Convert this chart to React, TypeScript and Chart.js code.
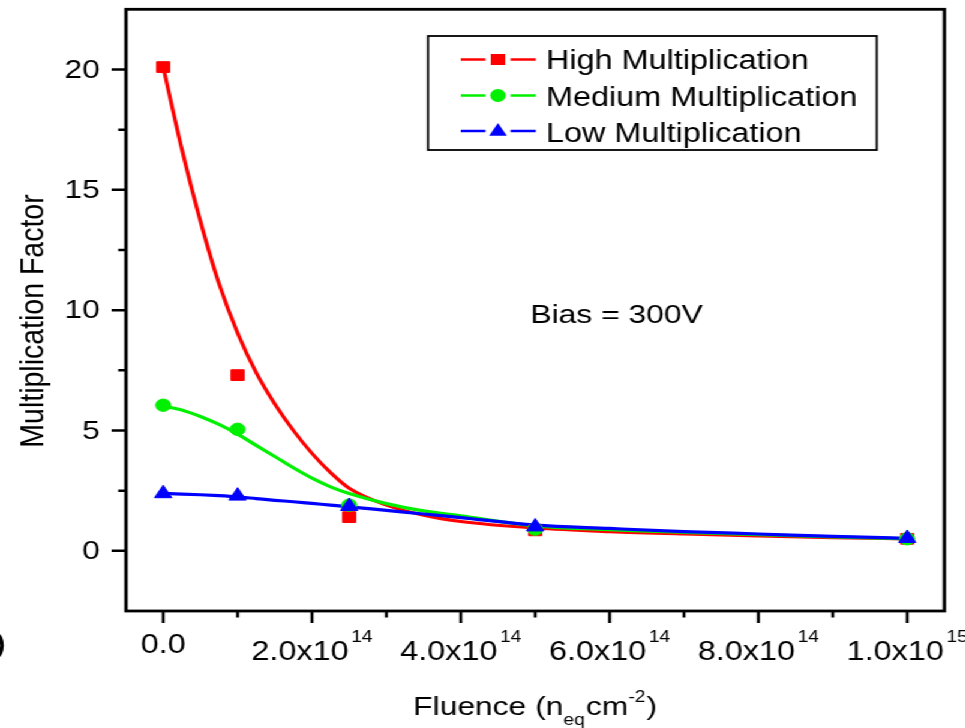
import React, { useEffect, useRef } from 'react';
import { Chart, registerables } from 'chart.js';

Chart.register(...registerables);

// ---- data ----
const fluence = [0, 1e14, 2.5e14, 5e14, 1e15];
const highValues = [20.1, 7.3, 1.4, 0.85, 0.5];
const mediumValues = [6.05, 5.05, 1.9, 0.9, 0.5];
const lowValues = [2.38, 2.28, 1.85, 1.0, 0.52];

const fitX = [0, 2.5e13, 5e13, 7.5e13, 1e14, 1.25e14, 1.5e14, 1.75e14, 2e14, 2.25e14, 2.5e14, 3e14, 3.5e14, 4e14, 5e14, 6e14, 7e14, 8e14, 9e14, 1e15];
const highFit = [20.1, 16.7, 13.7, 11.1, 9.05, 7.4, 6.1, 5.0, 4.05, 3.25, 2.6, 1.9, 1.48, 1.22, 0.95, 0.8, 0.7, 0.62, 0.55, 0.5];
const mediumFit = [6.02, 5.85, 5.58, 5.25, 4.85, 4.38, 3.92, 3.45, 3.02, 2.66, 2.38, 1.96, 1.66, 1.45, 1.04, 0.88, 0.77, 0.67, 0.58, 0.5];
const lowFit = [2.38, 2.36, 2.33, 2.29, 2.24, 2.17, 2.1, 2.04, 1.97, 1.9, 1.83, 1.68, 1.53, 1.38, 1.07, 0.93, 0.8, 0.7, 0.6, 0.52];

const seriesNames = ['High Multiplication', 'Medium Multiplication', 'Low Multiplication'];
const seriesColors = ['#ff0000', '#00f000', '#0000ff'];
const seriesStyles = ['rect', 'circle', 'triangle'];

const xMajor = [0, 2e14, 4e14, 6e14, 8e14, 1e15];
const xMantissa = ['0.0', '2.0x10', '4.0x10', '6.0x10', '8.0x10', '1.0x10'];
const xExponent = ['', '14', '14', '14', '14', '15'];
const xMinor = [1e14, 3e14, 5e14, 7e14, 9e14];
const yMajor = [0, 5, 10, 15, 20];
const yMajorLabels = ['0', '5', '10', '15', '20'];
const yMinor = [2.5, 7.5, 12.5, 17.5];

const xTitleParts = ['Fluence (n', 'eq', 'cm', '-2', ')'];
const yTitle = 'Multiplication Factor';
const annotation = 'Bias = 300V';

const FONT = '"Liberation Sans", Arial, sans-serif';
const CW = 804;
const CH = 728;

function pts(xs: number[], ys: number[]) {
  return xs.map((x, i) => ({ x, y: ys[i] }));
}

function drawMarker(ctx: CanvasRenderingContext2D, style: string, x: number, y: number, color: string) {
  ctx.save();
  ctx.fillStyle = color;
  ctx.beginPath();
  if (style === 'rect') {
    ctx.rect(x - 6, y - 5.5, 12, 11);
  } else if (style === 'circle') {
    ctx.arc(x, y, 6.5, 0, Math.PI * 2);
  } else {
    const r = 8.5;
    ctx.moveTo(x, y - r);
    ctx.lineTo(x + r * Math.sin((2 * Math.PI) / 3), y + r / 2);
    ctx.lineTo(x - r * Math.sin((2 * Math.PI) / 3), y + r / 2);
    ctx.closePath();
  }
  ctx.fill();
  ctx.restore();
}

const decorPlugin = {
  id: 'decor',
  afterDraw(chart: any) {
    const ctx: CanvasRenderingContext2D = chart.ctx;
    const { left, right, top, bottom } = chart.chartArea;
    const xs = chart.scales.x;
    const ys = chart.scales.y;
    ctx.save();
    ctx.strokeStyle = '#000';
    ctx.fillStyle = '#000';

    // frame
    ctx.lineWidth = 2.8;
    ctx.strokeRect(left, top, right - left, bottom - top);

    // ticks
    ctx.lineWidth = 2.5;
    ctx.beginPath();
    xMajor.forEach((v) => {
      const p = xs.getPixelForValue(v);
      ctx.moveTo(p, bottom);
      ctx.lineTo(p, bottom + 12);
    });
    xMinor.forEach((v) => {
      const p = xs.getPixelForValue(v);
      ctx.moveTo(p, bottom);
      ctx.lineTo(p, bottom + 6.5);
    });
    yMajor.forEach((v) => {
      const p = ys.getPixelForValue(v);
      ctx.moveTo(left, p);
      ctx.lineTo(left - 12, p);
    });
    yMinor.forEach((v) => {
      const p = ys.getPixelForValue(v);
      ctx.moveTo(left, p);
      ctx.lineTo(left - 6.5, p);
    });
    ctx.stroke();

    // y tick labels
    ctx.font = `26.5px ${FONT}`;
    ctx.textAlign = 'right';
    ctx.textBaseline = 'middle';
    yMajor.forEach((v, i) => {
      ctx.fillText(yMajorLabels[i], left - 21.7, ys.getPixelForValue(v) + 1);
    });

    // x tick labels with superscripts
    ctx.textBaseline = 'alphabetic';
    ctx.textAlign = 'left';
    xMajor.forEach((v, i) => {
      const p = xs.getPixelForValue(v);
      ctx.font = `27px ${FONT}`;
      const wm = ctx.measureText(xMantissa[i]).width;
      let ws = 0;
      if (xExponent[i]) {
        ctx.font = `16px ${FONT}`;
        ws = ctx.measureText(xExponent[i]).width + 2;
      }
      const start = p - (wm + ws) / 2;
      ctx.font = `27px ${FONT}`;
      if (xExponent[i]) {
        ctx.fillText(xMantissa[i], start, 660);
        ctx.font = `16px ${FONT}`;
        ctx.fillText(xExponent[i], start + wm + 2, 642);
      } else {
        ctx.fillText(xMantissa[i], start, 653);
      }
    });

    // x title
    const sizes = [26.5, 16, 26.5, 16, 26.5];
    const offs = [0, 10, 0, -13, 0];
    let total = 0;
    const widths = xTitleParts.map((t, i) => {
      ctx.font = `${sizes[i]}px ${FONT}`;
      const w = ctx.measureText(t).width + (sizes[i] < 20 ? 1 : 0);
      total += w;
      return w;
    });
    let cx = (left + right) / 2 - total / 2;
    xTitleParts.forEach((t, i) => {
      ctx.font = `${sizes[i]}px ${FONT}`;
      ctx.fillText(t, cx, 715 + offs[i]);
      cx += widths[i];
    });

    // y title
    ctx.save();
    ctx.translate(35.6, 321);
    ctx.rotate(-Math.PI / 2);
    ctx.textAlign = 'center';
    ctx.font = `28.5px ${FONT}`;
    ctx.fillText(yTitle, 0, 0);
    ctx.restore();

    // annotation
    ctx.font = `26.5px ${FONT}`;
    ctx.textAlign = 'left';
    ctx.fillText(annotation, 442, 323);

    // legend
    ctx.lineWidth = 1.8;
    ctx.strokeRect(356.7, 36, 730.6 - 356.7, 150 - 36);
    const lineY = [59.5, 95.5, 131];
    const textY = [68.5, 105.5, 141.5];
    seriesNames.forEach((name, i) => {
      ctx.strokeStyle = seriesColors[i];
      ctx.lineWidth = 2.4;
      ctx.beginPath();
      ctx.moveTo(384, lineY[i]);
      ctx.lineTo(404.5, lineY[i]);
      ctx.moveTo(425.5, lineY[i]);
      ctx.lineTo(446.5, lineY[i]);
      ctx.stroke();
      drawMarker(ctx, seriesStyles[i], 415, lineY[i] + (seriesStyles[i] === 'triangle' ? 0.5 : 0), seriesColors[i]);
      ctx.fillStyle = '#000';
      ctx.font = `27px ${FONT}`;
      ctx.fillText(name, 455, textY[i]);
    });

    // stray glyph from neighbouring panel
    ctx.fillStyle = '#000';
    ctx.font = `34px ${FONT}`;
    ctx.fillText(')', -6, 654);

    ctx.restore();
  },
};

function zeroPadding(s: any) {
  s.paddingTop = 0;
  s.paddingBottom = 0;
  s.paddingLeft = 0;
  s.paddingRight = 0;
}

export default function App() {
  const ref = useRef<HTMLCanvasElement>(null);

  useEffect(() => {
    if (!ref.current) return;
    const lineDs = (label: string, ys: number[], color: string, order: number) => ({
      type: 'line' as const,
      label,
      data: pts(fitX, ys),
      borderColor: color,
      backgroundColor: color,
      borderWidth: 3.2,
      pointRadius: 0,
      cubicInterpolationMode: 'monotone' as const,
      fill: false,
      order,
    });
    const markerDs = (label: string, ys: number[], color: string, style: string, radius: number, order: number) => ({
      type: 'scatter' as const,
      label,
      data: pts(fluence, ys),
      borderColor: color,
      backgroundColor: color,
      pointStyle: style,
      pointRadius: radius,
      pointBorderWidth: 1,
      showLine: false,
      order,
    });

    const chart = new Chart(ref.current, {
      type: 'scatter',
      data: {
        datasets: [
          lineDs(seriesNames[0] + ' fit', highFit, seriesColors[0], 6),
          lineDs(seriesNames[1] + ' fit', mediumFit, seriesColors[1], 5),
          lineDs(seriesNames[2] + ' fit', lowFit, seriesColors[2], 4),
          markerDs(seriesNames[0], highValues, seriesColors[0], 'rect', 7.6, 3),
          markerDs(seriesNames[1], mediumValues, seriesColors[1], 'circle', 6.2, 2),
          markerDs(seriesNames[2], lowValues, seriesColors[2], 'triangle', 8.3, 1),
        ] as any,
      },
      options: {
        animation: false,
        responsive: false,
        devicePixelRatio: 1,
        layout: { padding: { left: 0, top: 5, right: 17, bottom: 0 } },
        plugins: {
          legend: { display: false },
          tooltip: { enabled: false },
        },
        scales: {
          x: {
            type: 'linear',
            min: -5e13,
            max: 1.05e15,
            grid: { display: false },
            border: { display: false },
            ticks: { display: false },
            afterFit: (s: any) => {
              s.height = 117;
              zeroPadding(s);
            },
          },
          y: {
            type: 'linear',
            min: -2.5,
            max: 22.5,
            grid: { display: false },
            border: { display: false },
            ticks: { display: false, stepSize: 2.5 },
            afterFit: (s: any) => {
              s.width = 105;
              zeroPadding(s);
            },
          },
        },
      },
      plugins: [decorPlugin],
    });
    return () => chart.destroy();
  }, []);

  return (
    <div
      style={{
        position: 'fixed',
        left: 0,
        top: 0,
        width: CW,
        height: CH,
        background: '#fff',
        transform: 'scaleX(1.2)',
        transformOrigin: '0 0',
      }}
    >
      <canvas ref={ref} width={CW} height={CH} style={{ display: 'block' }} />
    </div>
  );
}
